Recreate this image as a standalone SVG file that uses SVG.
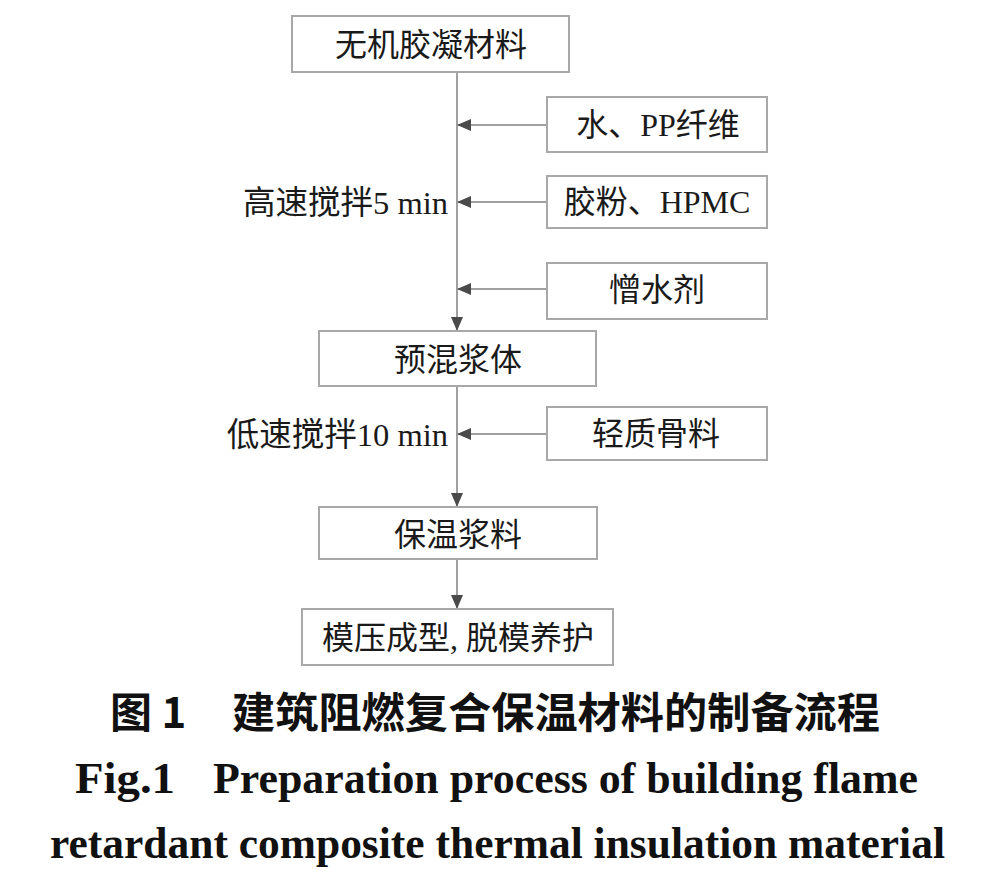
<svg xmlns="http://www.w3.org/2000/svg" width="990" height="883" viewBox="0 0 990 883">
<style>
.box{fill:#fff;stroke:#a8a8a8;stroke-width:2}
.t{font-family:"Liberation Serif","Noto Sans CJK SC",serif;font-size:32px;fill:#1a1a1a;text-anchor:middle;dominant-baseline:central}
.lbl{font-family:"Liberation Serif","Noto Sans CJK SC",serif;font-size:32.5px;fill:#1a1a1a;text-anchor:end;dominant-baseline:central}
.ln{stroke:#a0a0a0;stroke-width:2;fill:none}
.capc{font-family:"Noto Sans CJK SC",sans-serif;font-weight:700;font-size:42px;fill:#111}
.cape{font-family:"Liberation Serif",serif;font-weight:700;font-size:40px;fill:#111}
</style>
<defs>
<marker id="ah" markerUnits="userSpaceOnUse" markerWidth="14" markerHeight="12" refX="13" refY="6" orient="auto">
<path d="M0,0 L14,6 L0,12 Z" fill="#4a4a4a"/>
</marker>
</defs>
<rect width="990" height="883" fill="#fff"/>
<g id="connectors">
<line class="ln" x1="457" y1="72" x2="457" y2="330" marker-end="url(#ah)"/>
<line class="ln" x1="547" y1="125" x2="458" y2="125" marker-end="url(#ah)"/>
<line class="ln" x1="547" y1="202" x2="458" y2="202" marker-end="url(#ah)"/>
<line class="ln" x1="547" y1="289" x2="458" y2="289" marker-end="url(#ah)"/>
<line class="ln" x1="457" y1="386" x2="457" y2="506" marker-end="url(#ah)"/>
<line class="ln" x1="547" y1="434" x2="458" y2="434" marker-end="url(#ah)"/>
<line class="ln" x1="457" y1="559" x2="457" y2="608" marker-end="url(#ah)"/>
</g>
<g id="n1"><rect class="box" x="292" y="16" width="277" height="56"/><text class="t" x="431" y="45">无机胶凝材料</text></g>
<g id="n2"><rect class="box" x="547" y="97" width="220" height="55"/><text class="t" x="658" y="125">水、PP纤维</text></g>
<g id="n3"><rect class="box" x="547" y="176" width="220" height="52"/><text class="t" x="657" y="202">胶粉、HPMC</text></g>
<g id="n4"><rect class="box" x="547" y="263" width="220" height="56"/><text class="t" x="657" y="290">憎水剂</text></g>
<g id="l1"><text class="lbl" x="448" y="203">高速搅拌5 min</text></g>
<g id="n5"><rect class="box" x="319" y="331" width="277" height="55"/><text class="t" x="458" y="360">预混浆体</text></g>
<g id="l2"><text class="lbl" x="448" y="435">低速搅拌10 min</text></g>
<g id="n6"><rect class="box" x="547" y="407" width="220" height="53"/><text class="t" x="656" y="434">轻质骨料</text></g>
<g id="n7"><rect class="box" x="319" y="507" width="278" height="52"/><text class="t" x="458" y="535">保温浆料</text></g>
<g id="n8"><rect class="box" x="302" y="609" width="311" height="56"/><text class="t" x="458" y="638">模压成型, 脱模养护</text></g>
<g id="caption">
<text class="capc" x="110" y="728">图 1</text>
<text class="capc" x="232" y="728" textLength="648" lengthAdjust="spacingAndGlyphs">建筑阻燃复合保温材料的制备流程</text>
<text class="cape" transform="translate(75,793) scale(1,1.12)" textLength="100" lengthAdjust="spacingAndGlyphs">Fig.1</text>
<text class="cape" transform="translate(213,793) scale(1,1.12)" textLength="705" lengthAdjust="spacingAndGlyphs">Preparation process of building flame</text>
<text class="cape" transform="translate(50,858) scale(1,1.12)" textLength="895" lengthAdjust="spacingAndGlyphs">retardant composite thermal insulation material</text>
</g>
</svg>
